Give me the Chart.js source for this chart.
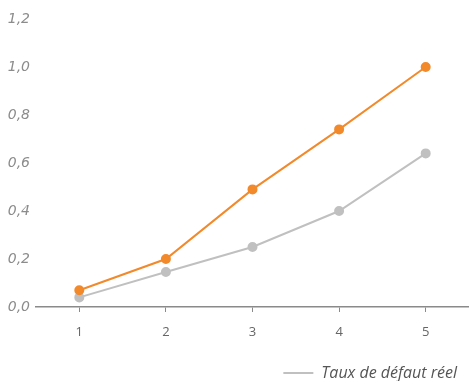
<!DOCTYPE html>
<html>
<head>
<meta charset="utf-8">
<script src="https://cdn.jsdelivr.net/npm/chart.js@4/dist/chart.umd.min.js"></script>
<style>
  html, body { margin: 0; padding: 0; background: #fff; }
  #wrap { width: 469px; height: 381px; }
</style>
</head>
<body>
<div id="wrap"><canvas id="c"></canvas></div>
<script>
const categories = ['1', '2', '3', '4', '5'];
const estimatedRate = [0.07, 0.20, 0.49, 0.74, 1.00];
const actualRate = [0.04, 0.146, 0.25, 0.40, 0.64];
const actualLabel = 'Taux de défaut réel';

const fmt = v => v.toFixed(1).replace('.', ',');

new Chart(document.getElementById('c'), {
  type: 'line',
  data: {
    labels: categories,
    datasets: [
      {
        label: 'Taux estimé',
        data: estimatedRate,
        borderColor: '#f2892b',
        backgroundColor: '#f2892b',
        borderWidth: 2,
        pointRadius: 4,
        pointHoverRadius: 4,
        tension: 0
      },
      {
        label: actualLabel,
        data: actualRate,
        borderColor: '#c0c0c0',
        backgroundColor: '#c0c0c0',
        borderWidth: 2,
        pointRadius: 4,
        pointHoverRadius: 4,
        tension: 0
      }
    ]
  },
  options: {
    responsive: true,
    maintainAspectRatio: false,
    animation: false,
    layout: { autoPadding: false, padding: { top: 19, right: 0, left: 2, bottom: -10 } },
    plugins: {
      tooltip: { enabled: false },
      legend: {
        position: 'bottom',
        align: 'end',
        labels: {
          filter: item => item.text === actualLabel,
          usePointStyle: true,
          pointStyle: 'line',
          pointStyleWidth: 30,
          boxHeight: 2,
          color: '#555',
          padding: 12,
          font: { family: 'Open Sans', style: 'italic', size: 16 }
        }
      }
    },
    scales: {
      x: {
        offset: true,
        afterFit: s => { s.height = 46; s.paddingLeft = 0; s.paddingRight = 0; },
        grid: {
          display: true,
          drawOnChartArea: false,
          drawTicks: true,
          tickLength: 5,
          color: '#8a8a8a'
        },
        border: { display: true, color: '#8a8a8a', width: 1.5 },
        ticks: {
          color: '#666',
          padding: 12,
          font: { family: 'Open Sans', size: 13 }
        }
      },
      y: {
        min: 0,
        max: 1.2,
        afterFit: s => { s.width = 34; },
        grid: { display: false, drawTicks: false, tickLength: 0 },
        border: { display: false },
        ticks: {
          stepSize: 0.2,
          color: '#8c8c8c',
          padding: 6,
          callback: v => fmt(v),
          font: { family: 'DejaVu Sans', style: 'italic', weight: 200, size: 14 }
        }
      }
    }
  }
});
</script>
</body>
</html>
